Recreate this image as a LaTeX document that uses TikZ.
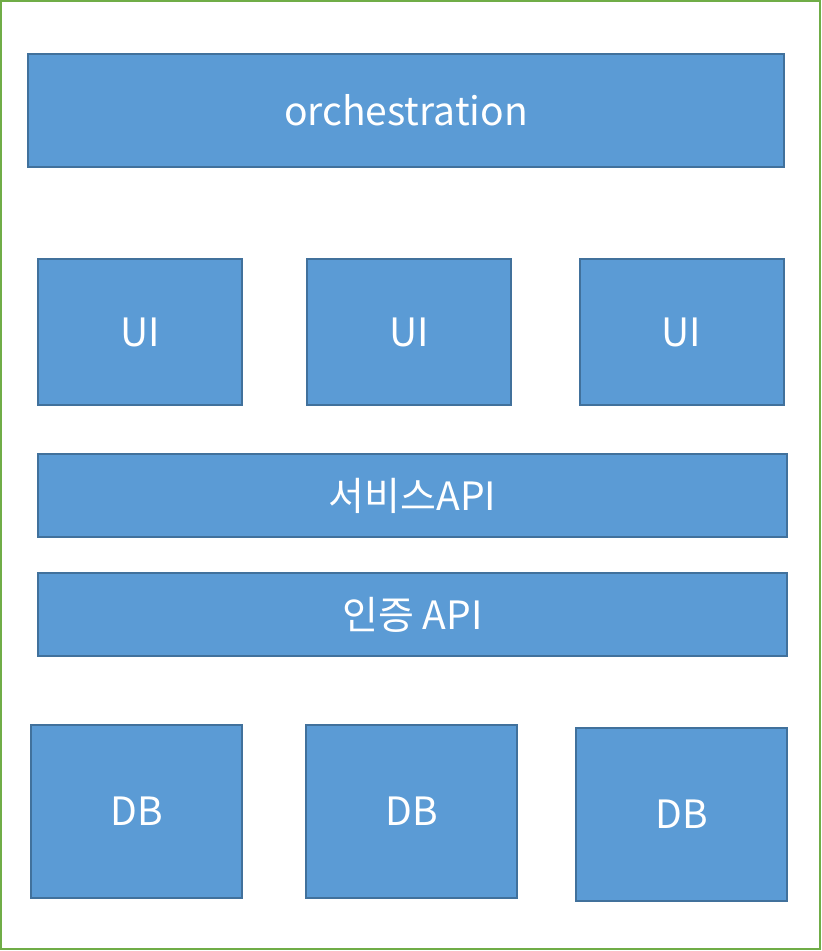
\documentclass[tikz,border=0pt]{standalone}
\usepackage{fontspec}
\setmainfont{Noto Sans CJK KR}
\usetikzlibrary{positioning}

\definecolor{boxfill}{HTML}{5B9BD5}
\definecolor{boxline}{HTML}{41719C}
\definecolor{frameline}{HTML}{70AD47}

\tikzset{
    blockbox/.style={draw=boxline, fill=boxfill, line width=2pt, text=white,
        inner sep=0pt, font=\fontsize{39}{43}\selectfont},
}

\begin{document}
\begin{tikzpicture}[x=1pt, y=-1pt]

\useasboundingbox (0,0) rectangle (822,951);
\draw [frameline, line width=2pt] (1,1) rectangle (820,949);

\node [blockbox, minimum width=756, minimum height=113] (orch) at (406,110.5) {orchestration};

\foreach \i/\x in {1/140,2/409,3/681.5}
    \node [blockbox, minimum width=204, minimum height=146] (ui\i) at (\x,332) {UI};

\node [blockbox, minimum width=749, minimum height=83] (svcapi) at (412.5,495.5) {서비스API};
\node [blockbox, minimum width=749, minimum height=83] (authapi) at (412.5,614.5) {인증 API};

\foreach \i/\x/\y in {1/136.5/811.5,2/411.5/811.5,3/681.5/814.5}
    \node [blockbox, minimum width=211, minimum height=173] (db\i) at (\x,\y) {DB};

\end{tikzpicture}
\end{document}
